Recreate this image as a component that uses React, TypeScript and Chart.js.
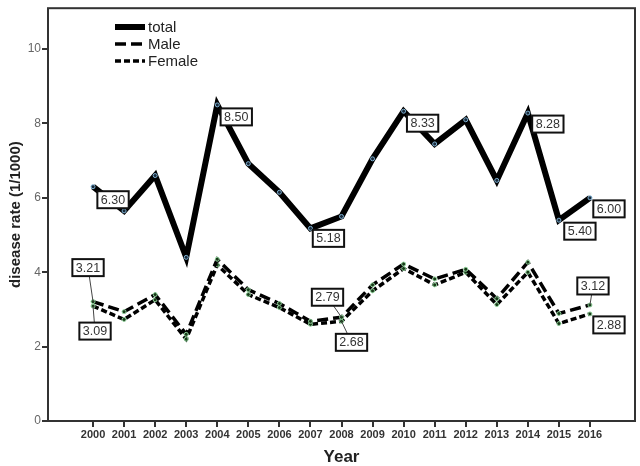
import React, { useEffect, useRef } from "react";
import { Chart, registerables } from "chart.js";
Chart.register(...registerables);

const years = [2000, 2001, 2002, 2003, 2004, 2005, 2006, 2007, 2008, 2009, 2010, 2011, 2012, 2013, 2014, 2015, 2016];
const totalRate = [6.3, 5.65, 6.6, 4.4, 8.5, 6.92, 6.15, 5.18, 5.5, 7.05, 8.33, 7.45, 8.1, 6.47, 8.28, 5.4, 6.0];
const maleRate = [3.21, 2.94, 3.4, 2.33, 4.35, 3.53, 3.16, 2.68, 2.79, 3.66, 4.22, 3.82, 4.08, 3.29, 4.27, 2.89, 3.12];
const femaleRate = [3.09, 2.73, 3.26, 2.2, 4.2, 3.4, 3.05, 2.6, 2.68, 3.5, 4.1, 3.66, 4.0, 3.13, 4.0, 2.62, 2.88];
const seriesNames = ["total", "Male", "Female"];
const yTicks = [0, 2, 4, 6, 8, 10];

// value callouts: dataset index, point index, box offset dx, dy, leader line
const callouts: [number, number, number, number, boolean][] = [
  [0, 0, 20, 13, false],
  [0, 4, 19, 12, false],
  [0, 7, 18, 10, false],
  [0, 10, 19, 12, false],
  [0, 14, 20, 11, false],
  [0, 15, 21, 11, false],
  [0, 16, 19, 11, false],
  [1, 0, -5, -34, true],
  [2, 0, 2, 25, true],
  [1, 8, -14, -20, true],
  [2, 8, 10, 21, true],
  [1, 16, 3, -19, true],
  [2, 16, 19, 11, false],
];

const legendDash = [[], [11, 5], [6, 3]];
const legendWidth = [6, 3.5, 3.5];

const framePlugin = {
  id: "frame",
  afterDraw(chart: any) {
    const { ctx, chartArea: a } = chart;
    ctx.save();
    ctx.strokeStyle = "#333";
    ctx.lineWidth = 2;
    ctx.strokeRect(a.left, a.top, a.right - a.left, a.bottom - a.top);
    ctx.restore();
  },
};

const calloutPlugin = {
  id: "callouts",
  afterDatasetsDraw(chart: any) {
    const { ctx } = chart;
    ctx.save();
    ctx.font = "12.5px Arial, 'Liberation Sans', sans-serif";
    ctx.textAlign = "center";
    ctx.textBaseline = "middle";
    for (const [di, pi, dx, dy, leader] of callouts) {
      const el = chart.getDatasetMeta(di).data[pi];
      const v = chart.data.datasets[di].data[pi].y as number;
      const text = v.toFixed(2);
      const cx = el.x + dx;
      const cy = el.y + dy;
      const w = ctx.measureText(text).width + 7;
      const h = 17;
      if (leader) {
        ctx.strokeStyle = "#444";
        ctx.lineWidth = 1;
        ctx.beginPath();
        ctx.moveTo(el.x, el.y);
        ctx.lineTo(cx, cy);
        ctx.stroke();
      }
      ctx.fillStyle = "#fff";
      ctx.fillRect(cx - w / 2, cy - h / 2, w, h);
      ctx.strokeStyle = "#111";
      ctx.lineWidth = 2;
      ctx.strokeRect(cx - w / 2, cy - h / 2, w, h);
      ctx.fillStyle = "#333";
      ctx.fillText(text, cx, cy + 0.5);
    }
    ctx.restore();
  },
};

const legendPlugin = {
  id: "innerLegend",
  afterDraw(chart: any) {
    const { ctx } = chart;
    ctx.save();
    ctx.font = "15px Arial, 'Liberation Sans', sans-serif";
    ctx.textBaseline = "middle";
    ctx.textAlign = "left";
    const rows = [27, 44, 61];
    seriesNames.forEach((name, i) => {
      const y = rows[i];
      ctx.strokeStyle = "#000";
      ctx.lineWidth = legendWidth[i];
      ctx.setLineDash(legendDash[i]);
      ctx.beginPath();
      ctx.moveTo(115, y);
      ctx.lineTo(145, y);
      ctx.stroke();
      ctx.setLineDash([]);
      ctx.fillStyle = "#222";
      ctx.fillText(name, 148, y + 1);
    });
    ctx.restore();
  },
};

export default function App() {
  const ref = useRef<HTMLCanvasElement>(null);
  useEffect(() => {
    if (!ref.current) return;
    const mk = (arr: number[]) => years.map((x, i) => ({ x, y: arr[i] }));
    const chart = new Chart(ref.current, {
      type: "line",
      data: {
        datasets: [
          {
            label: seriesNames[0],
            data: mk(totalRate),
            borderColor: "#000",
            borderWidth: 6,
            borderJoinStyle: "miter",
            pointRadius: 2,
            pointBorderWidth: 1,
            pointBorderColor: "#7fb2d4",
            pointBackgroundColor: "#1a2a3a",
            tension: 0,
          },
          {
            label: seriesNames[1],
            data: mk(maleRate),
            borderColor: "#000",
            borderWidth: 3.5,
            borderDash: [11, 5],
            pointRadius: 2,
            pointBorderWidth: 1,
            pointBorderColor: "#8fd09a",
            pointBackgroundColor: "#1a3a1a",
            tension: 0,
          },
          {
            label: seriesNames[2],
            data: mk(femaleRate),
            borderColor: "#000",
            borderWidth: 3.5,
            borderDash: [6, 3],
            pointRadius: 2,
            pointBorderWidth: 1,
            pointBorderColor: "#8fd09a",
            pointBackgroundColor: "#1a3a1a",
            tension: 0,
          },
        ],
      },
      options: {
        responsive: false,
        animation: false,
        events: [],
        layout: { padding: { top: 2, right: 5, left: 0, bottom: 0 } },
        plugins: { legend: { display: false }, tooltip: { enabled: false } },
        scales: {
          x: {
            type: "linear",
            min: 1998.55,
            max: 2017.45,
            afterBuildTicks: (s: any) => {
              s.ticks = years.map((v) => ({ value: v }));
            },
            afterFit: (s: any) => {
              s.height = 45;
            },
            grid: { drawOnChartArea: false, drawTicks: true, tickLength: 6, color: "#333", lineWidth: 2 },
            border: { display: false },
            ticks: {
              autoSkip: false,
              maxRotation: 0,
              padding: 1,
              color: "#333",
              font: { family: "Arial, 'Liberation Sans', sans-serif", size: 11, weight: "bold" },
              callback: (v: any) => String(v),
            },
            title: {
              display: true,
              text: "Year",
              color: "#222",
              padding: { top: 0, bottom: 0 },
              font: { family: "Arial, 'Liberation Sans', sans-serif", size: 17, weight: "bold", lineHeight: 1 },
            },
          },
          y: {
            min: 0,
            max: 11.1,
            afterBuildTicks: (s: any) => {
              s.ticks = yTicks.map((v) => ({ value: v }));
            },
            afterFit: (s: any) => {
              s.width = 48;
            },
            grid: { drawOnChartArea: false, drawTicks: true, tickLength: 6, color: "#333", lineWidth: 2 },
            border: { display: false },
            ticks: {
              padding: 1,
              color: "#666",
              font: { family: "Arial, 'Liberation Sans', sans-serif", size: 12 },
              callback: (v: any) => String(v),
            },
            title: {
              display: true,
              text: "disease rate (1/1000)",
              color: "#222",
              padding: { top: 8, bottom: 0 },
              font: { family: "Arial, 'Liberation Sans', sans-serif", size: 15, weight: "bold", lineHeight: 1 },
            },
          },
        },
      },
      plugins: [framePlugin, calloutPlugin, legendPlugin],
    } as any);
    return () => chart.destroy();
  }, []);
  return (
    <div style={{ position: "absolute", left: 0, top: 0, width: 640, height: 466, background: "#fff" }}>
      <canvas ref={ref} width={640} height={466} style={{ display: "block" }} />
    </div>
  );
}
